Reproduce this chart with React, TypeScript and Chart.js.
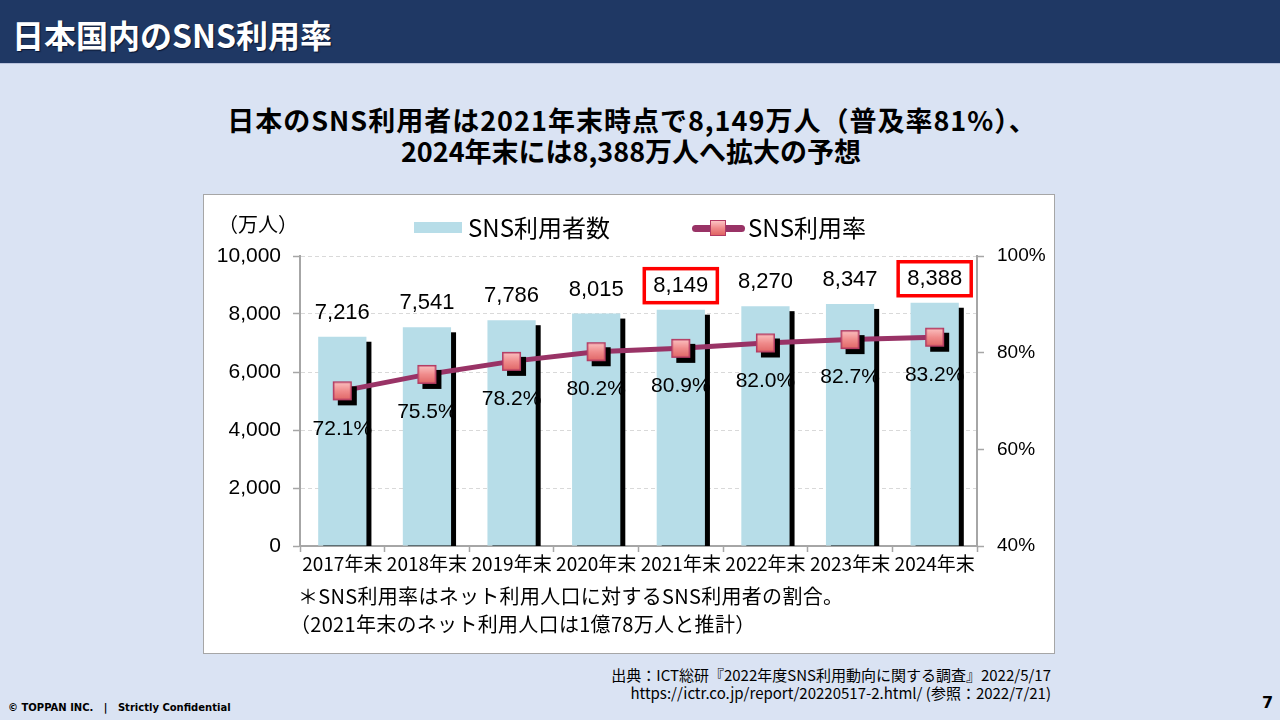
import React, { useEffect, useRef } from 'react';
import { Chart, registerables } from 'chart.js';

Chart.register(...registerables);

const categories = ['2017年末', '2018年末', '2019年末', '2020年末', '2021年末', '2022年末', '2023年末', '2024年末'];
const userCounts = [7216, 7541, 7786, 8015, 8149, 8270, 8347, 8388];
const usageRates = [72.1, 75.5, 78.2, 80.2, 80.9, 82.0, 82.7, 83.2];
const highlightedCategories = ['2021年末', '2024年末'];
const countAxis = { min: 0, max: 10000, step: 2000 };
const rateAxis = { min: 40, max: 100, step: 20 };

const BAR_COLOR = '#b7dde8';
const LINE_COLOR = '#993366';

function makeMarker(side: number, shadow: number): HTMLCanvasElement {
  const size = side + shadow * 2 + 2;
  const c = document.createElement('canvas');
  c.width = size;
  c.height = size;
  const ctx = c.getContext('2d')!;
  const x0 = (size - side) / 2;
  if (shadow > 0) {
    ctx.fillStyle = '#000';
    ctx.fillRect(x0 + shadow, x0 + shadow, side, side);
  }
  const g = ctx.createLinearGradient(0, x0, 0, x0 + side);
  g.addColorStop(0, '#fcc4c4');
  g.addColorStop(0.5, '#f08c8c');
  g.addColorStop(1, '#e06464');
  ctx.fillStyle = g;
  ctx.fillRect(x0, x0, side, side);
  ctx.strokeStyle = '#b23a62';
  ctx.lineWidth = 1.5;
  ctx.strokeRect(x0 + 0.75, x0 + 0.75, side - 1.5, side - 1.5);
  return c;
}

const barShadowPlugin = {
  id: 'barShadow',
  beforeDatasetsDraw(chart: any) {
    const meta = chart.getDatasetMeta(0);
    const { ctx, chartArea } = chart;
    ctx.save();
    ctx.beginPath();
    ctx.rect(chartArea.left, chartArea.top, chartArea.right - chartArea.left, chartArea.bottom - chartArea.top);
    ctx.clip();
    ctx.fillStyle = '#000';
    meta.data.forEach((bar: any) => {
      const { x, y, base, width } = bar.getProps(['x', 'y', 'base', 'width'], true);
      ctx.fillRect(x - width / 2 + 5, y + 5, width, base - y);
    });
    ctx.restore();
  },
};

const labelPlugin = {
  id: 'valueLabels',
  afterDatasetsDraw(chart: any) {
    const { ctx } = chart;
    const barMeta = chart.getDatasetMeta(0);
    const lineMeta = chart.getDatasetMeta(1);
    ctx.save();
    ctx.fillStyle = '#000';
    ctx.textAlign = 'center';
    ctx.textBaseline = 'middle';
    ctx.font = '22px "Liberation Sans", Arial, sans-serif';
    barMeta.data.forEach((bar: any, i: number) => {
      const text = userCounts[i].toLocaleString('en-US');
      const cx = bar.x;
      const cy = bar.y - 24;
      ctx.fillText(text, cx, cy);
      if (highlightedCategories.includes(categories[i])) {
        const w = ctx.measureText(text).width;
        ctx.save();
        ctx.strokeStyle = '#ff0000';
        ctx.lineWidth = 3.5;
        ctx.strokeRect(cx - w / 2 - 9, cy - 17, w + 18, 34);
        ctx.restore();
      }
    });
    ctx.font = '21px "Liberation Sans", Arial, sans-serif';
    lineMeta.data.forEach((pt: any, i: number) => {
      ctx.fillText(usageRates[i].toFixed(1) + '%', pt.x, pt.y + 38);
    });
    ctx.restore();
  },
};

export default function App() {
  const canvasRef = useRef<HTMLCanvasElement | null>(null);

  useEffect(() => {
    document.body.style.margin = '0';
    const canvas = canvasRef.current;
    if (!canvas) return;
    const marker = makeMarker(19, 5);
    const axisGray = '#a6a6a6';
    const chart = new Chart(canvas, {
      type: 'bar',
      data: {
        labels: categories,
        datasets: [
          {
            type: 'bar',
            label: 'SNS利用者数',
            data: userCounts,
            backgroundColor: BAR_COLOR,
            borderWidth: 0,
            barPercentage: 0.57,
            categoryPercentage: 1,
            yAxisID: 'y',
            order: 1,
          },
          {
            type: 'line',
            label: 'SNS利用率',
            data: usageRates,
            borderColor: LINE_COLOR,
            borderWidth: 5,
            pointStyle: marker as any,
            pointRadius: 12,
            yAxisID: 'y1',
            order: 0,
            clip: false as any,
          },
        ],
      } as any,
      options: {
        responsive: false,
        animation: false,
        devicePixelRatio: 1,
        layout: { padding: { top: 61, left: 0, right: 0, bottom: 0 } },
        plugins: { legend: { display: false }, tooltip: { enabled: false } },
        scales: {
          x: {
            grid: { display: true, drawOnChartArea: false, offset: true, tickLength: 6, tickColor: axisGray, tickWidth: 1.5 },
            border: { color: axisGray, width: 2 },
            ticks: { color: '#000', font: { family: '"Noto Sans CJK JP", sans-serif', size: 19 }, padding: 0, maxRotation: 0, autoSkip: false },
            afterFit: (s: any) => { s.height = 107; },
          },
          y: {
            position: 'left',
            min: countAxis.min,
            max: countAxis.max,
            ticks: {
              stepSize: countAxis.step,
              color: '#000',
              padding: 12,
              font: { family: '"Liberation Sans", Arial, sans-serif', size: 21 },
              callback: (v: any) => Number(v).toLocaleString('en-US'),
            },
            grid: { color: '#d9d9d9', lineWidth: 1, tickColor: axisGray, tickLength: 7, tickWidth: 1.5 },
            border: { color: axisGray, width: 2, dash: [4, 3] },
            afterFit: (s: any) => { s.width = 96; },
          },
          y1: {
            position: 'right',
            min: rateAxis.min,
            max: rateAxis.max,
            ticks: {
              stepSize: rateAxis.step,
              color: '#000',
              padding: 13,
              font: { family: '"Liberation Sans", Arial, sans-serif', size: 19 },
              callback: (v: any) => v + '%',
            },
            grid: { drawOnChartArea: false, tickColor: axisGray, tickLength: 7, tickWidth: 1.5 },
            border: { color: axisGray, width: 2 },
            afterFit: (s: any) => { s.width = 77; },
          },
        },
      } as any,
      plugins: [barShadowPlugin, labelPlugin],
    });
    return () => chart.destroy();
  }, []);

  const cjk = '"Noto Sans CJK JP", "Noto Sans", sans-serif';
  const abs = (o: React.CSSProperties): React.CSSProperties => ({ position: 'absolute', whiteSpace: 'nowrap', lineHeight: 1, ...o });

  return (
    <div style={{ position: 'absolute', left: 0, top: 0, width: 1280, height: 720, background: '#dae3f3', overflow: 'hidden', fontFamily: cjk }}>
      <div style={{ position: 'absolute', left: 0, top: 0, width: 1280, height: 63, background: '#1f3864', borderBottom: '1px solid #b8c2dc' }} />
      <div style={abs({ left: 12, top: 18, fontSize: 32, fontWeight: 700, color: '#fff', textShadow: '1px 1px 1px #0a1530' })}>日本国内のSNS利用率</div>

      <div style={abs({ left: 0, width: 1264, top: 106, fontSize: 27, fontWeight: 700, color: '#000', textAlign: 'center', letterSpacing: 1 })}>日本のSNS利用者は2021年末時点で8,149万人（普及率81%）、</div>
      <div style={abs({ left: 0, width: 1262, top: 136.6, fontSize: 27, fontWeight: 700, color: '#000', textAlign: 'center' })}>2024年末には8,388万人へ拡大の予想</div>

      <div style={{ position: 'absolute', left: 203, top: 194, width: 852, height: 460, boxSizing: 'border-box', border: '1px solid #a6a6a6', background: '#fff' }} />
      <canvas ref={canvasRef} width={850} height={458} style={{ position: 'absolute', left: 204, top: 195, width: 850, height: 458 }} />

      <div style={abs({ left: 218, top: 214, fontSize: 20, color: '#000' })}>（万人）</div>
      <div style={{ position: 'absolute', left: 414, top: 222, width: 48, height: 11, background: BAR_COLOR }} />
      <div style={abs({ left: 468, top: 214.8, fontSize: 24, color: '#000' })}>SNS利用者数</div>
      <div style={{ position: 'absolute', left: 692, top: 224.5, width: 53, height: 7, background: LINE_COLOR, borderRadius: 4 }} />
      <div style={{ position: 'absolute', left: 710, top: 220, width: 16, height: 16, boxSizing: 'border-box', border: '1.5px solid #b23a62', background: 'linear-gradient(#fcc4c4, #f08c8c 50%, #e06464)' }} />
      <div style={abs({ left: 748, top: 214.8, fontSize: 24, color: '#000' })}>SNS利用率</div>

      <div style={abs({ left: 298, top: 586, fontSize: 20, color: '#000', letterSpacing: 0.3 })}>＊SNS利用率はネット利用人口に対するSNS利用者の割合。</div>
      <div style={abs({ left: 290, top: 614, fontSize: 20, color: '#000', letterSpacing: 0.3 })}>（2021年末のネット利用人口は1億78万人と推計）</div>

      <div style={abs({ right: 229, top: 666.7, fontSize: 15, color: '#000', textAlign: 'right' })}>出典：ICT総研『2022年度SNS利用動向に関する調査』2022/5/17</div>
      <div style={abs({ right: 229, top: 684.7, fontSize: 15, color: '#000', textAlign: 'right' })}>https://ictr.co.jp/report/20220517-2.html/ (参照：2022/7/21)</div>

      <div style={abs({ left: 8, top: 703, fontSize: 10, fontWeight: 700, color: '#000', fontFamily: '"DejaVu Sans", Verdana, sans-serif' })}>© TOPPAN INC.&nbsp;&nbsp;&nbsp;|&nbsp;&nbsp;&nbsp;Strictly Confidential</div>
      <div style={abs({ left: 1262, top: 695, fontSize: 16, fontWeight: 700, color: '#000', fontFamily: '"DejaVu Sans", Verdana, sans-serif' })}>7</div>
    </div>
  );
}
